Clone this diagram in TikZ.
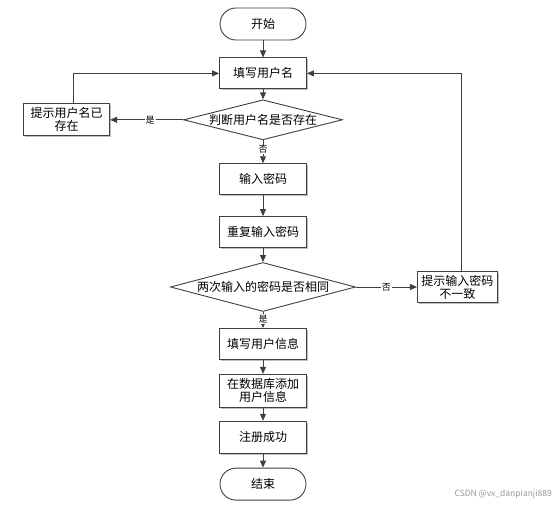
\documentclass[tikz,border=0pt]{standalone}
\usepackage{fontspec}
\setmainfont{Noto Sans CJK SC}
\usepackage{tikz}
\usetikzlibrary{positioning, shapes.geometric, arrows.meta, shadows}
\definecolor{lineGray}{RGB}{64, 64, 64}

\begin{document}
\begin{tikzpicture}[
    x=1pt, y=-1pt,
    proc/.style={rectangle, draw=lineGray, fill=white, line width=0.9pt,
                 minimum width=87pt, minimum height=31pt, align=center,
                 font=\fontsize{12}{15}\selectfont,
                 drop shadow={shadow xshift=1.5pt, shadow yshift=-1.5pt, fill=black, opacity=0.25}},
    term/.style={rectangle, rounded corners=16pt, draw=lineGray, fill=white, line width=0.9pt,
                 minimum width=86pt, minimum height=32pt, font=\fontsize{12}{15}\selectfont},
    decide/.style={diamond, draw=lineGray, fill=white, line width=0.9pt, aspect=4,
                   inner xsep=-30pt, inner ysep=0pt, font=\fontsize{12}{15}\selectfont},
    arrow/.style={-{Triangle[length=7pt, width=6pt]}, draw=lineGray, line width=0.9pt},
    yn/.style={fill=white, inner sep=1pt, font=\fontsize{9}{10}\selectfont},
  ]
    \useasboundingbox (0,0) rectangle (553,506);

    % main column
    \node[term] (START) at (263,24) {开始};
    \node[proc, below=17pt of START] (INPUT_NAME) {填写用户名};
    \node[decide, minimum width=159pt, minimum height=40pt, below=10pt of INPUT_NAME] (CHECK_NAME) {判断用户名是否存在};
    \node[proc, below=23pt of CHECK_NAME] (PWD) {输入密码};
    \node[proc, below=21pt of PWD] (REPEAT) {重复输入密码};
    \node[decide, minimum width=185pt, minimum height=49pt, below=14pt of REPEAT] (CHECK_PWD) {两次输入的密码是否相同};
    \node[proc, below=16pt of CHECK_PWD] (INFO) {填写用户信息};
    \node[proc, minimum height=33pt, below=14pt of INFO] (DB) {在数据库添加\\[-2pt]用户信息};
    \node[proc, minimum height=32pt, below=13pt of DB] (OK) {注册成功};
    \node[term, below=14pt of OK] (END) {结束};

    % side boxes
    \node[proc, minimum width=86pt, minimum height=32pt, left=73pt of CHECK_NAME] (NAME_EXIST) {提示用户名已\\[-2pt]存在};
    \node[proc, minimum width=80pt, right=61pt of CHECK_PWD] (MISMATCH) {提示输入密码\\[-2pt]不一致};

    % watermark
    \node[anchor=east, text=black!40, font=\fontsize{8.5}{10}\selectfont, inner sep=0pt] (MARK) at (552,494) {CSDN @vx\_danpianji889};

    \draw[arrow] (START) -- (INPUT_NAME);
    \draw[arrow] (INPUT_NAME) -- (CHECK_NAME);
    \draw[arrow] (CHECK_NAME) -- node[yn, pos=0.45] {是} (NAME_EXIST);
    \draw[arrow] ([xshift=7pt]NAME_EXIST.north) |- (INPUT_NAME.west);
    \draw[arrow] (CHECK_NAME) -- node[yn, pos=0.4] {否} (PWD);
    \draw[arrow] (PWD) -- (REPEAT);
    \draw[arrow] (REPEAT) -- (CHECK_PWD);
    \draw[arrow] (CHECK_PWD) -- node[yn, pos=0.5] {否} (MISMATCH);
    \draw[arrow] ([xshift=4pt]MISMATCH.north) |- (INPUT_NAME.east);
    \draw[arrow] (CHECK_PWD) -- node[yn, pos=0.45] {是} (INFO);
    \draw[arrow] (INFO) -- (DB);
    \draw[arrow] (DB) -- (OK);
    \draw[arrow] (OK) -- (END);
  \end{tikzpicture}
\end{document}
